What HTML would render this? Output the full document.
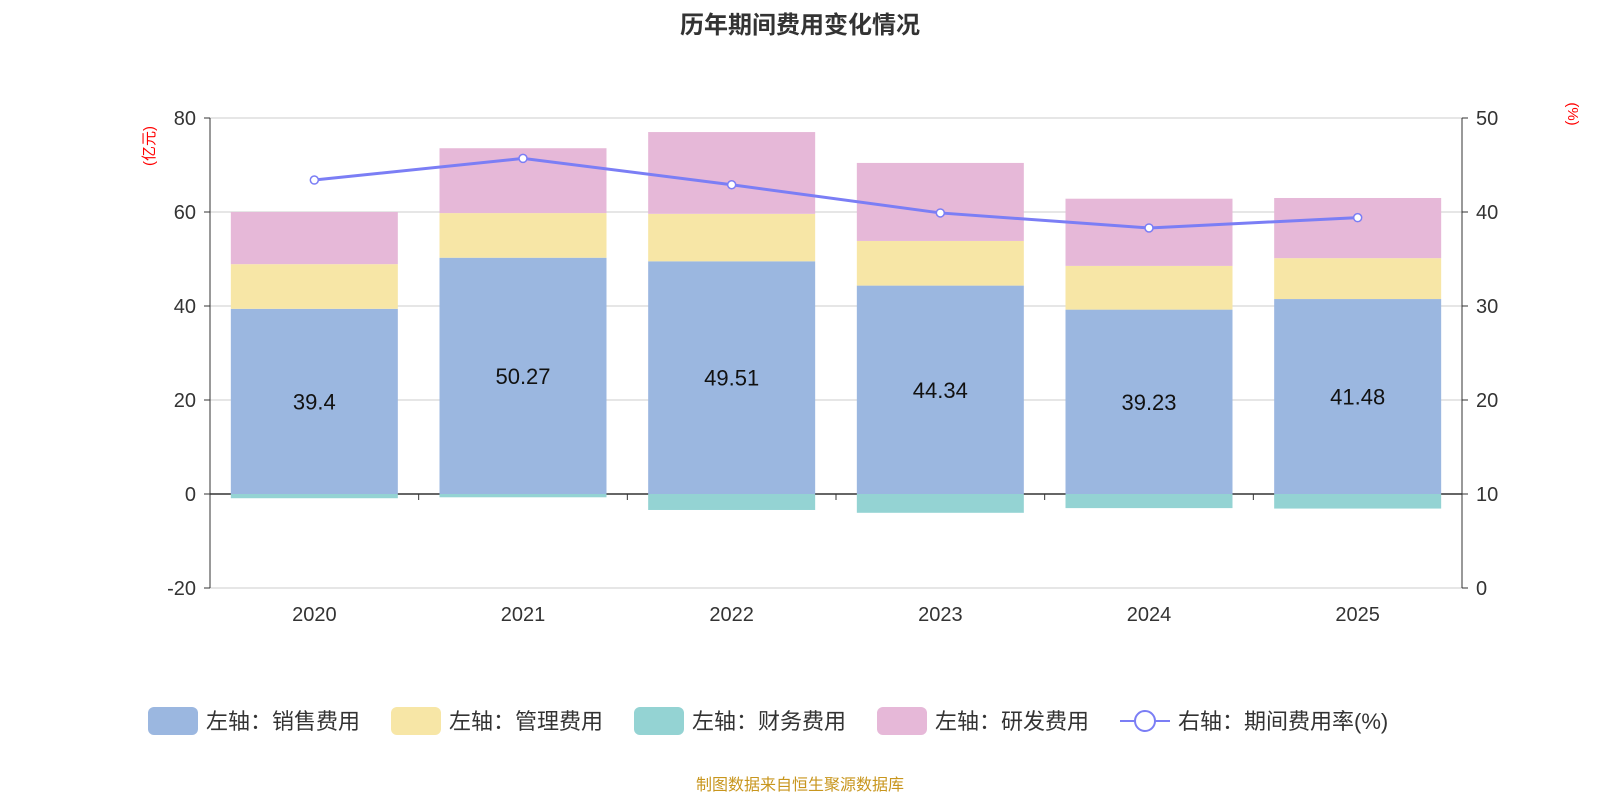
<!DOCTYPE html>
<html><head><meta charset="utf-8"><style>
body{margin:0;background:#fff;}
svg{display:block;font-family:"Liberation Sans","Noto Sans CJK SC",sans-serif;}
</style></head><body>
<svg id="c" width="1600" height="800" viewBox="0 0 1600 800">
<text x="800" y="33" text-anchor="middle" font-size="24" font-weight="bold" fill="#333">历年期间费用变化情况</text>
<text x="154" y="146" font-size="15" fill="red" transform="rotate(-90 154 146)" text-anchor="middle">(亿元)</text>
<text x="1568" y="114" font-size="15" fill="red" transform="rotate(90 1568 114)" text-anchor="middle">(%)</text>
<g id="g"></g>
<text x="800" y="790" text-anchor="middle" font-size="16" fill="#c8961e">制图数据来自恒生聚源数据库</text>
</svg>
<script>
const years=["2020","2021","2022","2023","2024","2025"];
const sales=[39.4,50.27,49.51,44.34,39.23,41.48];
const mgmt=[9.5,9.5,10.1,9.5,9.3,8.7];
const fin=[-0.9,-0.7,-3.4,-4.0,-3.0,-3.1];
const rd=[11.1,13.8,17.4,16.6,14.3,12.8];
const rate=[43.4,45.7,42.9,39.9,38.3,39.4];
const leftTicks=[-20,0,20,40,60,80];
const rightTicks=[0,10,20,30,40,50];
const NS="http://www.w3.org/2000/svg";
const g=document.getElementById('g');
const X0=210,X1=1462,YT=118,YB=588;
const yL=v=>YB-(v+20)/100*(YB-YT);
const yR=v=>YB-v/50*(YB-YT);
const bw=(X1-X0)/years.length;
const xC=i=>X0+bw*(i+0.5);
function el(t,a,p){const e=document.createElementNS(NS,t);for(const k in a)e.setAttribute(k,a[k]);(p||g).appendChild(e);return e;}
leftTicks.forEach((v,i)=>{const y=yL(v);
 const l=el('line',{x1:X0,x2:X1,y1:y,y2:y,stroke:v===0?'#333':'#ccc','stroke-width':v===0?1.5:1});
 
 
 const t=el('text',{x:X0-14,y:y+7,'text-anchor':'end','font-size':20,fill:'#333'});t.textContent=v;
 
 
 el('line',{x1:X0-6,x2:X0,y1:y,y2:y,stroke:'#333'});
});
rightTicks.forEach(v=>{const y=yR(v);
 const t=el('text',{x:X1+14,y:y+7,'font-size':20,fill:'#333'});t.textContent=v;
 
 
 el('line',{x1:X1,x2:X1+6,y1:y,y2:y,stroke:'#333'});
});
el('line',{x1:X0,x2:X0,y1:YT,y2:YB,stroke:'#333'});
el('line',{x1:X1,x2:X1,y1:YT,y2:YB,stroke:'#333'});
for(let i=0;i<=years.length;i++){const x=X0+bw*i;el('line',{x1:x,x2:x,y1:yL(0),y2:yL(0)+6,stroke:'#333'});}
const BW=167;
years.forEach((yr,i)=>{
 const x=xC(i)-BW/2;
 const segs=[[0,sales[i],'#9bb7e0','bar-sales'],[sales[i],sales[i]+mgmt[i],'#f7e6a6','bar-management'],[sales[i]+mgmt[i],sales[i]+mgmt[i]+rd[i],'#e6b8d8','bar-rd']];
 segs.forEach(s=>{const r=el('rect',{x:x,width:BW,y:yL(s[1]),height:yL(s[0])-yL(s[1]),fill:s[2]});
  
  });
 const f=el('rect',{x:x,width:BW,y:yL(0),height:yL(fin[i])-yL(0),fill:'#94d3d3'});
 
 
 const t=el('text',{x:xC(i),y:(yL(0)+yL(sales[i]))/2+8,'text-anchor':'middle','font-size':22,fill:'#111'});t.textContent=sales[i];
 
 
 const xl=el('text',{x:xC(i),y:621,'text-anchor':'middle','font-size':20,fill:'#333'});xl.textContent=yr;
 
 
});
const pl=el('polyline',{points:rate.map((v,i)=>xC(i)+','+yR(v)).join(' '),fill:'none',stroke:'#7b7ef5','stroke-width':3});


rate.forEach((v,i)=>{const c=el('circle',{cx:xC(i),cy:yR(v),r:4,fill:'#fff',stroke:'#7b7ef5','stroke-width':1.5});
 
 });
const leg=[['左轴：销售费用','#9bb7e0',148],['左轴：管理费用','#f7e6a6',391],['左轴：财务费用','#94d3d3',634],['左轴：研发费用','#e6b8d8',877]];
leg.forEach(l=>{const r=el('rect',{x:l[2],y:707,width:50,height:28,rx:6,fill:l[1]});
 
 
 const t=el('text',{x:l[2]+58,y:729,'font-size':22,fill:'#333'});t.textContent=l[0];
 
 });
el('line',{x1:1120,x2:1170,y1:721,y2:721,stroke:'#7b7ef5','stroke-width':2});
el('circle',{cx:1145,cy:721,r:10,fill:'#fff',stroke:'#7b7ef5','stroke-width':2});
const lt=el('text',{x:1178,y:729,'font-size':22,fill:'#333'});lt.textContent='右轴：期间费用率(%)';


</script>
</body></html>
